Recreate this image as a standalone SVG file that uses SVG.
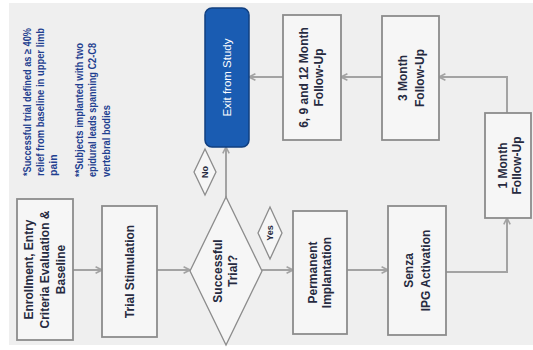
<svg xmlns="http://www.w3.org/2000/svg" width="533" height="350" viewBox="0 0 533 350">
<defs>
<style>
.box{fill:#f6f6f6;stroke:#8c8c8c;stroke-width:1.8}
.dia{fill:#f6f6f6;stroke:#8c8c8c;stroke-width:1.3}
.t{font-family:"Liberation Sans",Arial,sans-serif;font-weight:bold;font-size:12px;fill:#262a40;text-anchor:middle}
.s{font-family:"Liberation Sans",Arial,sans-serif;font-weight:bold;font-size:9px;fill:#262a40;text-anchor:middle}
.n{font-family:"Liberation Sans",Arial,sans-serif;font-weight:bold;font-size:10.5px;fill:#1f3f90}
.c{fill:none;stroke:#a3a3a3;stroke-width:2;marker-end:url(#ah)}
</style>
<marker id="ah" viewBox="0 0 10 10" refX="9" refY="5" markerWidth="4" markerHeight="4" orient="auto" markerUnits="strokeWidth">
<path d="M1,1 L9,5 L1,9" fill="none" stroke="#a3a3a3" stroke-width="2"/>
</marker>
</defs>
<rect x="0" y="0" width="533" height="350" fill="#ffffff"/>
<rect x="9" y="3" width="524" height="342" fill="#efefef"/>

<g id="notes" transform="rotate(-90)">
<text class="n" x="-176" y="31" textLength="148" lengthAdjust="spacingAndGlyphs">*Successful trial defined as ≥ 40%</text>
<text class="n" x="-176" y="44" textLength="148" lengthAdjust="spacingAndGlyphs">relief from baseline in upper limb</text>
<text class="n" x="-176" y="57">pain</text>
<text class="n" x="-177" y="83" textLength="134" lengthAdjust="spacingAndGlyphs">**Subjects implanted with two</text>
<text class="n" x="-177" y="96" textLength="134" lengthAdjust="spacingAndGlyphs">epidural leads spanning C2-C8</text>
<text class="n" x="-177" y="110" textLength="72" lengthAdjust="spacingAndGlyphs">vertebral bodies</text>
</g>

<g id="connectors">
<path class="c" d="M73,270 H102"/>
<path class="c" d="M157,270 H190"/>
<path class="c" d="M262,270 H293"/>
<path class="c" d="M347,270 H388"/>
<path class="c" d="M446,272 H507 V218"/>
<path class="c" d="M507,113 V77 H439"/>
<path class="c" d="M382,77 H341"/>
<path class="c" d="M283,77 H249"/>
<path class="c" d="M226,197 V147"/>
</g>

<g id="enrollment">
<rect class="box" x="17" y="199" width="56" height="141"/>
<g transform="translate(45,269.5) rotate(-90)">
<text class="t" x="0" y="-12">Enrollment, Entry</text>
<text class="t" x="0" y="4">Criteria Evaluation &amp;</text>
<text class="t" x="0" y="20">Baseline</text>
</g>
</g>

<g id="trial-stimulation">
<rect class="box" x="102" y="206" width="55" height="131"/>
<text class="t" transform="translate(129.5,271.5) rotate(-90)" x="0" y="4">Trial Stimulation</text>
</g>

<g id="successful-trial">
<polygon class="dia" points="190,271 226,197 262,271 226,345"/>
<g transform="translate(226,271) rotate(-90)">
<text class="t" x="0" y="-4">Successful</text>
<text class="t" x="0" y="11">Trial?</text>
</g>
</g>

<g id="yes-label">
<polygon class="dia" points="258,233 270,207 282,233 270,259"/>
<text class="s" transform="translate(270,233) rotate(-90)" x="0" y="3">Yes</text>
</g>

<g id="no-label">
<polygon class="dia" points="194,172 205,149 216,172 205,195"/>
<text class="s" transform="translate(205,172) rotate(-90)" x="0" y="3">No</text>
</g>

<g id="permanent-implantation">
<rect class="box" x="293" y="211" width="54" height="123"/>
<g transform="translate(320,272.5) rotate(-90)">
<text class="t" x="0" y="-3">Permanent</text>
<text class="t" x="0" y="11">Implantation</text>
</g>
</g>

<g id="senza-ipg">
<rect class="box" x="388" y="206" width="58" height="129"/>
<g transform="translate(417,270.5) rotate(-90)">
<text class="t" x="0" y="-4">Senza</text>
<text class="t" x="0" y="13">IPG Activation</text>
</g>
</g>

<g id="one-month">
<rect class="box" x="485" y="113" width="46" height="105"/>
<g transform="translate(509,165.5) rotate(-90)">
<text class="t" x="0" y="-2">1 Month</text>
<text class="t" x="0" y="12">Follow-Up</text>
</g>
</g>

<g id="three-month">
<rect class="box" x="382" y="16" width="57" height="124"/>
<g transform="translate(410.5,78) rotate(-90)">
<text class="t" x="0" y="-4">3 Month</text>
<text class="t" x="0" y="13">Follow-Up</text>
</g>
</g>

<g id="six-nine-twelve-month">
<rect class="box" x="283" y="15" width="58" height="125"/>
<g transform="translate(311,77.5) rotate(-90)">
<text class="t" x="0" y="-3">6, 9 and 12 Month</text>
<text class="t" x="0" y="12">Follow-Up</text>
</g>
</g>

<g id="exit-from-study">
<rect x="205" y="8" width="44" height="139" rx="7" fill="#1a5cb2" stroke="#103f80" stroke-width="1.5"/>
<text transform="translate(227,77.5) rotate(-90)" x="0" y="4" font-family="Liberation Sans, Arial, sans-serif" font-size="11.5" fill="#ffffff" text-anchor="middle">Exit from Study</text>
</g>
</svg>
